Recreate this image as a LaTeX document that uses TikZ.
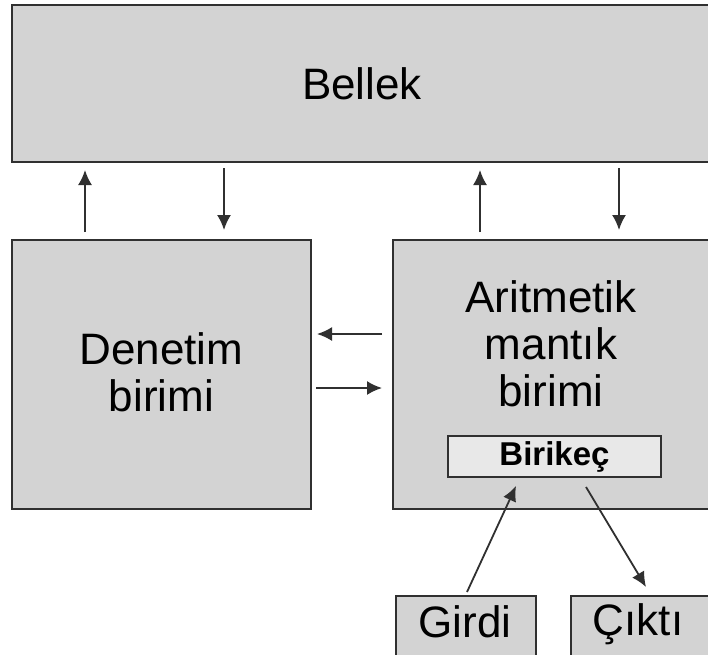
\documentclass[tikz,border=0pt]{standalone}
\usepackage{fontspec}
\setmainfont{Liberation Sans}
\usetikzlibrary{arrows.meta}
\definecolor{boxgray}{HTML}{D3D3D3}
\definecolor{innergray}{HTML}{E8E8E8}
\definecolor{edge}{HTML}{303030}
\tikzset{
  unitbox/.style={draw=edge, line width=2.8pt, fill=boxgray, inner sep=0pt, outer sep=0pt},
  bigtext/.style={font=\fontsize{44}{47}\selectfont, align=center, text=black},
  conn/.style={draw=edge, line width=1.8pt, -{Latex[length=15pt,width=14pt]}},
}
\begin{document}
\begin{tikzpicture}[x=1pt,y=-1pt]
\useasboundingbox (0,0) rectangle (708,654);
\clip (0,0) rectangle (708,654);
\fill[white] (0,0) rectangle (708,654);
% boxes
\node[unitbox, minimum width=700pt, minimum height=157pt, bigtext] (bellek) at (362,83.5) {Bellek};
\node[unitbox, minimum width=299pt, minimum height=269pt] (denetim) at (161.5,374.5) {};
\node[bigtext] (denetimtext) at (161.5,372) {Denetim\\birimi};
\node[unitbox, minimum width=319pt, minimum height=269pt] (alu) at (552.5,374.5) {};
\node[bigtext] (alutext) at (551,344) {Aritmetik\\mantık\\birimi};
\node[draw=edge, line width=2.8pt, fill=innergray, minimum width=213pt, minimum height=41pt, inner sep=0pt,
      font=\fontsize{33}{38}\selectfont\bfseries] (birikec) at (554.5,456.5) {Birikeç};
\node[unitbox, minimum width=140pt, minimum height=78pt] (girdi) at (466,635) {};
\node[unitbox, minimum width=140pt, minimum height=78pt] (cikti) at (641,635) {};
\node[bigtext, anchor=base] (girditext) at (465,637) {Girdi};
\node[bigtext, anchor=base] (ciktitext) at (638,635) {Çıktı};
% connector end points
\coordinate (a1s) at (85,232);   \coordinate (a1e) at (85,170);
\coordinate (a2s) at (224,168);  \coordinate (a2e) at (224,230);
\coordinate (a3s) at (480,232);  \coordinate (a3e) at (480,170);
\coordinate (a4s) at (619,168);  \coordinate (a4e) at (619,230);
\coordinate (h1s) at (382,334);  \coordinate (h1e) at (317,334);
\coordinate (h2s) at (316,388);  \coordinate (h2e) at (382,388);
\coordinate (g1s) at (467,592);  \coordinate (g1e) at (516,486);
\coordinate (c1s) at (586,487);  \coordinate (c1e) at (646,587);
% connectors
\draw[conn] (a1s) -- (a1e);
\draw[conn] (a2s) -- (a2e);
\draw[conn] (a3s) -- (a3e);
\draw[conn] (a4s) -- (a4e);
\draw[conn] (h1s) -- (h1e);
\draw[conn] (h2s) -- (h2e);
\draw[conn] (g1s) -- (g1e);
\draw[conn] (c1s) -- (c1e);
\end{tikzpicture}
\end{document}
